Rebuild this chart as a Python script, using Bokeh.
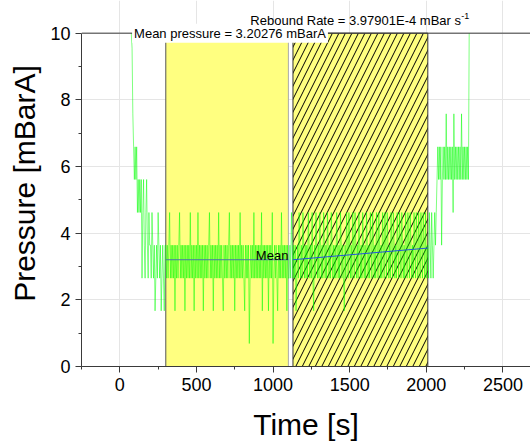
from bokeh.plotting import figure
from bokeh.models import Range1d, LinearAxis, FixedTicker, Label
from bokeh.embed import file_html
from bokeh.resources import INLINE

# ---- data ----
# quantised pressure levels of the gauge [mBarA]; level 10 = full scale
level_values = [0.69, 1.67, 2.65, 3.64, 4.62, 5.61, 6.59, 7.58, 8.56, 9.55, 10.0]
sample_start_s = 75
sample_step_s = 5
# one character per 5 s sample = index into level_values (hex digit, a=10)
pumpdown = "a976565645454524532453243"
settling = "32432312324323123213"
baseline = ("32323423232313232342"
            "32323132323242323132"
            "32423232313232323423"
            "23132323242323213232"
            "32342323231323232423"
            "23213232302323242323"
            "23232413232323132324"
            "02323213232423232313"
            "2")
rebound = ("23243232312324323243"
           "23232432324213243232"
           "43232432324323243232"
           "32432324323213243243"
           "23243243232432324323"
           "24323243243232432432"
           "32432432432324324323"
           "24324324323243243243"
           "23243243243243243242"
           "3")
after_test = "32432432343"
vented = "4565656356565756565656475656565657565656565" + "a"

baseline_window = [300, 1100]   # s
rebound_window = [1130, 2010]   # s
mean_pressure = 3.20276         # mBarA
rebound_rate = 3.97901e-4       # mBar/s

x_ticks = [0, 500, 1000, 1500, 2000, 2500]
x_minor = [-250, 250, 750, 1250, 1750, 2250, 2750]
y_ticks = [0, 2, 4, 6, 8, 10]
y_minor = [1, 3, 5, 7, 9]

# ---- build series ----
codes = pumpdown + settling + baseline + rebound + after_test + vented
pressure = [level_values[int(c, 16)] for c in codes]
time_s = [sample_start_s + sample_step_s * i for i in range(len(codes))]

FONT = "Liberation Sans"
AX = "#3a3a3a"
X0, X1 = -250, 2680
Y_TOP = 10

p = figure(width=530, height=443, x_range=Range1d(X0, X1), y_range=Range1d(0, 10.98),
           output_backend="svg", toolbar_location=None,
           x_axis_location=None, y_axis_location=None,
           min_border_left=81, min_border_right=0, min_border_top=0, min_border_bottom=74)
p.outline_line_color = None
p.background_fill_color = "white"
p.border_fill_color = "white"

xaxis = LinearAxis(ticker=FixedTicker(ticks=x_ticks, minor_ticks=x_minor), axis_label="Time [s]")
yaxis = LinearAxis(ticker=FixedTicker(ticks=y_ticks, minor_ticks=y_minor), axis_label="Pressure [mBarA]",
                   bounds=(0, Y_TOP))
for ax in (xaxis, yaxis):
    ax.axis_line_color = AX
    ax.axis_line_width = 1
    ax.major_tick_line_color = AX
    ax.minor_tick_line_color = AX
    ax.major_tick_in = 0
    ax.major_tick_out = 6
    ax.minor_tick_in = 0
    ax.minor_tick_out = 3
    ax.major_label_text_font = FONT
    ax.major_label_text_font_size = "18px"
    ax.major_label_text_color = "black"
    ax.axis_label_text_font = FONT
    ax.axis_label_text_font_size = "30px"
    ax.axis_label_text_font_style = "normal"
    ax.axis_label_text_color = "black"
xaxis.major_label_standoff = 5
xaxis.axis_label_standoff = 14
yaxis.major_label_standoff = 5
yaxis.axis_label_standoff = 6
p.add_layout(xaxis, "below")
p.add_layout(yaxis, "left")

# regions
p.quad(left=[baseline_window[0]], right=[baseline_window[1]], bottom=[0], top=[Y_TOP],
       fill_color="#FFFF80", line_color=None)
p.segment(x0=[baseline_window[0]], x1=[baseline_window[0]], y0=[0], y1=[Y_TOP], line_color="#555555", line_width=1)
p.segment(x0=[baseline_window[1]], x1=[baseline_window[1]], y0=[0], y1=[Y_TOP], line_color="#aaaaaa", line_width=1)
p.quad(left=[rebound_window[0]], right=[rebound_window[1]], bottom=[0], top=[Y_TOP],
       fill_color="#FFFF80", line_color="#333333", line_width=1,
       hatch_pattern="/", hatch_color="black", hatch_scale=13, hatch_weight=1)

# data
p.line(time_s, pressure, line_color="#00FF00", line_alpha=0.5, line_width=1)

# mean and rebound fit
p.line(baseline_window, [mean_pressure, mean_pressure], line_color="#4a78a8", line_width=1)
rb_end = mean_pressure + rebound_rate * (rebound_window[1] - rebound_window[0])
p.line(rebound_window, [mean_pressure, rb_end], line_color="#2255dd", line_width=1)

# top frame line
p.segment(x0=[X0], x1=[X1], y0=[Y_TOP], y1=[Y_TOP], line_color=AX, line_width=1)

p.add_layout(Label(x=baseline_window[1], y=mean_pressure, y_offset=4, text="Mean",
                   text_align="right", text_baseline="alphabetic",
                   text_font=FONT, text_font_size="13px", text_color="black"))
p.add_layout(Label(x=80, y=Y_TOP, text="Mean pressure = 3.20276 mBarA",
                   text_align="left", text_baseline="middle",
                   text_font=FONT, text_font_size="13px", text_color="black",
                   background_fill_color="white", padding=2))
p.add_layout(Label(x=852, y=Y_TOP, y_offset=12.3, text="Rebound Rate = 3.97901E-4 mBar s",
                   text_align="left", text_baseline="alphabetic",
                   text_font=FONT, text_font_size="13px", text_color="black"))
p.add_layout(Label(x=852, y=Y_TOP, x_offset=211, y_offset=17, text="-1",
                   text_align="left", text_baseline="alphabetic",
                   text_font=FONT, text_font_size="9px", text_color="black"))

open("out.html", "w").write(file_html(p, INLINE))
